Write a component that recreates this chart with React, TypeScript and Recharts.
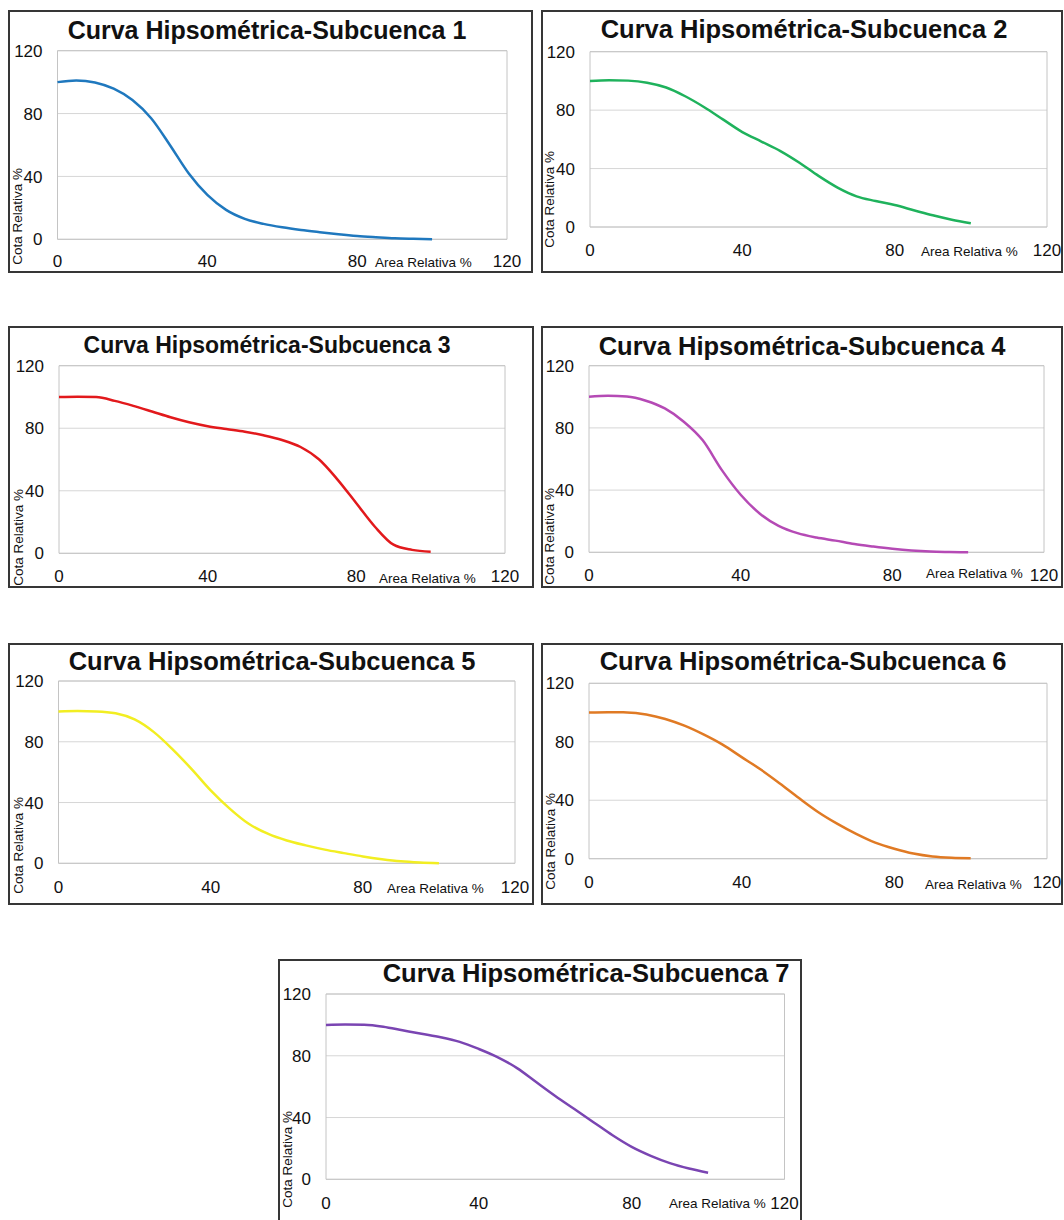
import React from 'react'
import {
  CartesianGrid,
  Line,
  LineChart,
  ReferenceArea,
  XAxis,
  YAxis
} from 'recharts'

// area relativa (%) — same sample points for every subcuenca
const areaRel = [0, 5, 10, 15, 20, 25, 30, 35, 40, 45, 50, 55, 60, 65, 70, 75, 80, 85, 90, 95, 100]

// cota relativa (%)
const cota1 = [100, 101.1, 99.8, 95.8, 88.6, 77, 60, 42, 28.2, 18.7, 13, 9.8, 7.6, 5.9, 4.5, 3.2, 2.1, 1.3, 0.6, 0.3, 0.1]
const cota2 = [100, 100.5, 100.2, 98.8, 95.5, 89.5, 82, 73.5, 65, 58.5, 52, 44, 35, 27, 21, 17.8, 15, 11.5, 8, 5, 2.5]
const cota3 = [100, 100.2, 99.9, 97.5, 94.3, 90.7, 87, 83.8, 81.3, 79.5, 77.8, 75.5, 72.5, 68, 60, 47, 32, 17, 5.5, 2.2, 1]
const cota4 = [100, 100.6, 100.2, 97.5, 92.5, 84, 72, 53, 37, 25, 17, 12.3, 9.5, 7.5, 5.3, 3.7, 2.3, 1.2, 0.5, 0.2, 0]
const cota5 = [100, 100.2, 100, 98.8, 94.7, 86.5, 75, 62, 48, 36, 26, 19.5, 15, 11.8, 9, 6.7, 4.5, 2.7, 1.3, 0.5, 0]
const cota6 = [100, 100.2, 100.1, 98.7, 95.6, 91, 85, 78, 69.5, 61, 51.5, 41.5, 32, 24, 17, 11, 6.8, 3.5, 1.5, 0.6, 0.3]
const cota7 = [100, 100.3, 100.1, 98.8, 96.5, 94.2, 92, 89, 84.4, 79, 72, 63, 54, 45.5, 37, 28.5, 21, 15.2, 10.5, 7, 4.3]

const axisTicks = [0, 40, 80, 120]

const FONT = '"Liberation Sans", Arial, Helvetica, sans-serif'
const YW = 40
const XH = 30

type Box = { l: number; t: number; r: number; b: number }

type PanelProps = {
  n: number
  values: number[]
  color: string
  frame: Box
  plot: Box
  title: { cx: number; cy: number; fs: number }
  xLabel: { l: number; cy: number }
  yLabel: { cx: number; b: number }
  xGap: number
}

const xTick = (p: any) => (
  <text x={p.x} y={p.y} dy="0.68em" textAnchor="middle" fill="#111" fontSize={17} fontFamily={FONT}>
    {p.payload.value}
  </text>
)

const yTick = (p: any) => (
  <text x={p.x} y={p.y} dy="0.36em" textAnchor="end" fill="#111" fontSize={17} fontFamily={FONT}>
    {p.payload.value}
  </text>
)

function Panel({ n, values, color, frame, plot, title, xLabel, yLabel, xGap }: PanelProps) {
  const data = areaRel.map((x, i) => ({ x, y: values[i] }))
  const w = frame.r - frame.l
  const h = frame.b - frame.t
  return (
    <>
      <div style={{ position: 'absolute', left: frame.l, top: frame.t }}>
        <LineChart
          width={w}
          height={h}
          data={data}
          margin={{
            top: plot.t - frame.t,
            left: plot.l - frame.l - YW,
            right: frame.r - plot.r,
            bottom: frame.b - plot.b - XH
          }}
        >
          <CartesianGrid horizontal vertical={false} stroke="#d6d6d6" />
          <ReferenceArea x1={0} x2={120} y1={0} y2={120} fill="none" fillOpacity={0} stroke="#c4c4c4" />
          <XAxis
            type="number"
            dataKey="x"
            domain={[0, 120]}
            ticks={axisTicks}
            height={XH}
            axisLine={false}
            tickLine={false}
            tickSize={0}
            tickMargin={xGap}
            interval={0}
            tick={xTick}
          />
          <YAxis
            type="number"
            domain={[0, 120]}
            ticks={axisTicks}
            width={YW}
            axisLine={false}
            tickLine={false}
            tickSize={0}
            tickMargin={15}
            interval={0}
            tick={yTick}
          />
          <Line
            type="monotone"
            dataKey="y"
            stroke={color}
            strokeWidth={2.5}
            dot={false}
            activeDot={false}
            isAnimationActive={false}
          />
        </LineChart>
      </div>
      <div
        style={{
          position: 'absolute',
          left: frame.l,
          top: frame.t,
          width: w,
          height: h,
          border: '2px solid #363636',
          boxSizing: 'border-box',
          pointerEvents: 'none'
        }}
      />
      <div
        style={{
          position: 'absolute',
          left: title.cx - 300,
          width: 600,
          top: title.cy - title.fs / 2,
          textAlign: 'center',
          fontFamily: FONT,
          fontWeight: 'bold',
          fontSize: title.fs,
          lineHeight: 1,
          whiteSpace: 'nowrap',
          color: '#111'
        }}
      >
        {`Curva Hipsométrica-Subcuenca ${n}`}
      </div>
      <div
        style={{
          position: 'absolute',
          left: xLabel.l,
          top: xLabel.cy - 7,
          fontFamily: FONT,
          fontSize: 13.5,
          lineHeight: 1,
          whiteSpace: 'nowrap',
          color: '#111'
        }}
      >
        Area Relativa %
      </div>
      <div
        style={{
          position: 'absolute',
          left: yLabel.cx - 7,
          bottom: 1220 - yLabel.b,
          width: 14,
          fontFamily: FONT,
          fontSize: 13.5,
          lineHeight: 1,
          whiteSpace: 'nowrap',
          writingMode: 'vertical-rl',
          transform: 'rotate(180deg)',
          color: '#111'
        }}
      >
        Cota Relativa %
      </div>
    </>
  )
}

export default function App() {
  return (
    <div
      style={{
        position: 'absolute',
        left: 0,
        top: 0,
        width: 1064,
        height: 1220,
        overflow: 'hidden',
        background: '#fff'
      }}
    >
      <Panel
        n={1}
        values={cota1}
        color="#1f78be"
        frame={{ l: 8, t: 10, r: 533, b: 273 }}
        plot={{ l: 57.5, t: 50.7, r: 507, b: 239.3 }}
        title={{ cx: 267, cy: 30, fs: 25 }}
        xLabel={{ l: 375, cy: 263 }}
        yLabel={{ cx: 18, b: 265 }}
        xGap={16}
      />
      <Panel
        n={2}
        values={cota2}
        color="#1fb25c"
        frame={{ l: 541, t: 10, r: 1063, b: 273 }}
        plot={{ l: 590, t: 51.7, r: 1047, b: 227 }}
        title={{ cx: 804, cy: 30, fs: 25.5 }}
        xLabel={{ l: 921, cy: 252 }}
        yLabel={{ cx: 550, b: 248 }}
        xGap={17.3}
      />
      <Panel
        n={3}
        values={cota3}
        color="#e2191c"
        frame={{ l: 8, t: 326, r: 534, b: 588 }}
        plot={{ l: 59, t: 365.7, r: 505, b: 553.3 }}
        title={{ cx: 267, cy: 345, fs: 23 }}
        xLabel={{ l: 379, cy: 579 }}
        yLabel={{ cx: 19, b: 586 }}
        xGap={16.7}
      />
      <Panel
        n={4}
        values={cota4}
        color="#b54ab5"
        frame={{ l: 541, t: 326, r: 1063, b: 588 }}
        plot={{ l: 589, t: 365.7, r: 1044, b: 552.3 }}
        title={{ cx: 802, cy: 347, fs: 25.5 }}
        xLabel={{ l: 926, cy: 574 }}
        yLabel={{ cx: 550, b: 585 }}
        xGap={17}
      />
      <Panel
        n={5}
        values={cota5}
        color="#f2ee22"
        frame={{ l: 8, t: 643, r: 534, b: 905 }}
        plot={{ l: 58.5, t: 681, r: 515, b: 863.3 }}
        title={{ cx: 272, cy: 662, fs: 25.5 }}
        xLabel={{ l: 387, cy: 889 }}
        yLabel={{ cx: 19, b: 894 }}
        xGap={18}
      />
      <Panel
        n={6}
        values={cota6}
        color="#e07a24"
        frame={{ l: 541, t: 643, r: 1063, b: 905 }}
        plot={{ l: 589, t: 683.3, r: 1047, b: 858.7 }}
        title={{ cx: 803, cy: 662, fs: 25.5 }}
        xLabel={{ l: 925, cy: 885 }}
        yLabel={{ cx: 551, b: 890 }}
        xGap={17.3}
      />
      <Panel
        n={7}
        values={cota7}
        color="#7a45b2"
        frame={{ l: 278, t: 959, r: 802, b: 1226 }}
        plot={{ l: 326, t: 994, r: 784.5, b: 1179.3 }}
        title={{ cx: 586, cy: 974, fs: 25.5 }}
        xLabel={{ l: 669, cy: 1204 }}
        yLabel={{ cx: 288, b: 1208 }}
        xGap={17.7}
      />
    </div>
  )
}
